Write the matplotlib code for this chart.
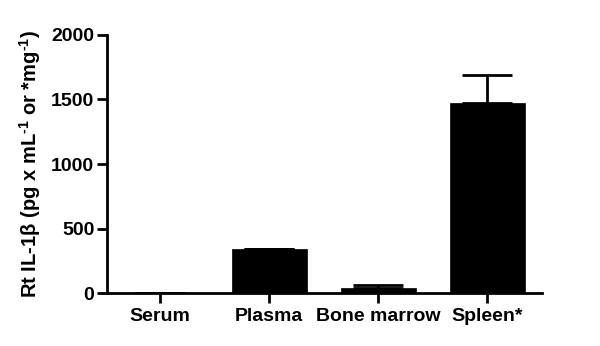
import numpy as np
import matplotlib
matplotlib.use("Agg")
import matplotlib.pyplot as plt

plt.rcParams['font.family'] = ['Liberation Sans', 'DejaVu Sans']
plt.rcParams['font.weight'] = 'bold'
plt.rcParams['mathtext.fontset'] = 'custom'
plt.rcParams['mathtext.bf'] = 'Liberation Sans:bold'
plt.rcParams['mathtext.rm'] = 'Liberation Sans:bold'
plt.rcParams['mathtext.default'] = 'bf'

categories = ['Serum', 'Plasma', 'Bone marrow', 'Spleen*']
means = [0, 338, 42, 1475]
errors = [0, 0, 22, 215]
yticks = [0, 500, 1000, 1500, 2000]

fig = plt.figure(figsize=(6, 3.46), dpi=100)
ax = fig.add_axes([0.178, 0.153, 0.725, 0.746])

x = np.arange(len(categories))
lower = [0] * len(errors)
ax.bar(x, means, width=0.69, color='black', edgecolor='black', linewidth=0.5, zorder=2)
ax.errorbar(x, means, yerr=[lower, errors], fmt='none', ecolor='black',
            elinewidth=2, capsize=18, capthick=2, zorder=1)

ax.set_xlim(-0.49, 3.5)
ax.set_ylim(0, 2000)
ax.set_yticks(yticks)
ax.set_xticks(x)
ax.set_xticklabels(categories, fontsize=14, fontweight='bold')
ax.tick_params(axis='y', labelsize=14, width=2, length=7, direction='out', pad=2)
ax.tick_params(axis='x', width=2, length=7, direction='out')
for lab in ax.get_yticklabels():
    lab.set_fontweight('bold')

for side in ['top', 'right']:
    ax.spines[side].set_visible(False)
for side in ['left', 'bottom']:
    ax.spines[side].set_linewidth(2)

ax.set_ylabel(r'Rt IL-1β (pg x mL$^{\text{-1}}$ or *mg$^{\text{-1}}$)', fontsize=14.5,
              fontweight='bold', labelpad=6)

fig.savefig('out.png', dpi=100)
